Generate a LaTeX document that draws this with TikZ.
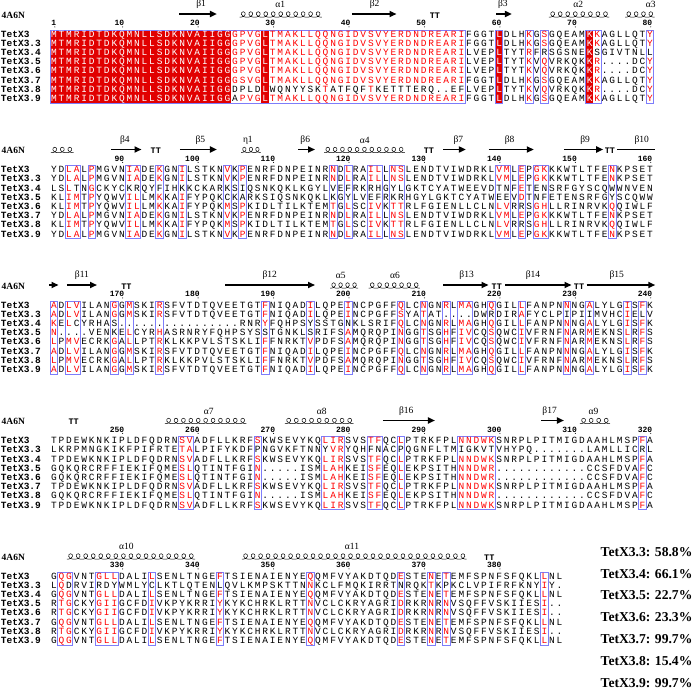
\documentclass[tikz,border=0pt]{standalone}
\usepackage{fontspec}
\setmainfont{Liberation Serif}
\setmonofont{Liberation Mono}
\usetikzlibrary{arrows.meta}
\definecolor{espred}{RGB}{225,0,0}
\definecolor{esptxt}{RGB}{255,0,0}
\definecolor{espblue}{RGB}{125,125,250}
\newcount\colidx
\newcount\blk
\newcount\nodecnt
\def\colx#1{54+(#1-1)*7.544}
\def\rowgap{9.2}
\newcommand\seqrow[2]{%
  \colidx=0
  \def\rowid{#1}%
  \pgfmathsetmacro\rowy{\blky+#1*\rowgap}%
  \doseq#2\relax}
\def\doseq#1{%
  \ifx#1\relax\else
    \advance\colidx by 1\relax
    \placech{#1}%
    \expandafter\doseq
  \fi}
\def\placech#1{%
  \ifnum\lccode`#1=`#1\relax
    \uppercase{\def\thech{#1}}\def\thecol{esptxt}%
  \else
    \def\thech{#1}\def\thecol{black}%
  \fi
  \ifcsname rb-\the\blk-\the\colidx\endcsname\def\thecol{white}\fi
  \node[seqch,text=\thecol,name=s\the\blk-\rowid-\the\colidx] at ({\colx{\the\colidx}},\rowy) {\thech};}
\newcommand\redbg[2]{%
  \foreach \k in {#1,...,#2}{\expandafter\gdef\csname rb-\the\blk-\k\endcsname{}}%
  \fill[espred] ({\colx{#1}-3.772},\blky-4.2) rectangle ({\colx{#2}+3.772},\blky+7*\rowgap+4.2);}
\newcommand\frm[2]{\draw[espblue,line width=0.75pt] ({\colx{#1}-3.772},\blky-4.2) rectangle ({\colx{#2}+3.772},\blky+7*\rowgap+4.2);}
\newcommand\names{%
  \foreach \n [count=\i from 0] in {TetX3,TetX3.3,TetX3.4,TetX3.5,TetX3.6,TetX3.7,TetX3.8,TetX3.9}{%
    \node[namech,name=nm\the\blk-\i] at (0.8,{\blky+\i*\rowgap}) {\n};}%
  \node[pdb,name=pdb\the\blk] at (1.5,\blky-19.5) {4A6N};}
\newcommand\numlab[2]{%
  \node[numch,name=num\the\blk-#1] at ({\colx{#1}+2.5},\blky-9.0) {#2};
  \fill ({\colx{#1}+0.8},\blky-7.6) circle (0.55pt);}
\newcommand\sslabel[2]{\global\advance\nodecnt by 1
  \node[sslab,name=ss\the\nodecnt] at ({\colx{#1}},\blky-30) {#2};}
\newcommand\sarr[4]{\draw[ssarr] ({\colx{#1}},\blky-20.5) -- ({\colx{#2}},\blky-20.5); \sslabel{#3}{#4}}
\newcommand\helixdraw[2]{%
  \pgfmathsetmacro\hxa{\colx{#1}}\pgfmathsetmacro\hxb{\colx{#2}}%
  \pgfmathtruncatemacro\hn{max(1,round((\hxb-\hxa)/7.544))}%
  \pgfmathsetmacro\hw{(\hxb-\hxa)/\hn}%
  \pgfmathsetmacro\hyb{\blky-17.3}\pgfmathsetmacro\hyt{\blky-22.8}%
  \draw[helixline] (\hxa,\hyb) \foreach \k in {1,...,\hn}{
     .. controls ({\hxa+(\k-0.05)*\hw},\hyb) and ({\hxa+(\k-0.12)*\hw},\hyt) .. ({\hxa+(\k-0.5)*\hw},\hyt)
     .. controls ({\hxa+(\k-0.88)*\hw},\hyt) and ({\hxa+(\k-0.95)*\hw},\hyb) .. ({\hxa+\k*\hw},\hyb)};}
\newcommand\shel[4]{\helixdraw{#1}{#2}\sslabel{#3}{#4}}
\newcommand\tturn[1]{\global\advance\nodecnt by 1
  \node[ttlab,name=tt\the\nodecnt] at ({\colx{#1}},\blky-19) {TT};}
\tikzset{
 seqch/.style={inner sep=0pt, font=\ttfamily\fontsize{9.5}{10}\selectfont, text height=5.3pt, text depth=0pt, anchor=center},
 namech/.style={inner sep=0pt, anchor=west, font=\ttfamily\bfseries\fontsize{9.5}{10}\selectfont, text height=5.3pt, text depth=0pt},
 pdb/.style={inner sep=0pt, anchor=west, font=\bfseries\fontsize{9.5}{10}\selectfont, text height=6pt, text depth=0pt},
 numch/.style={inner sep=0pt, anchor=base east, font=\ttfamily\bfseries\fontsize{8}{9}\selectfont},
 sslab/.style={inner sep=0pt, font=\fontsize{9.5}{10}\selectfont},
 ttlab/.style={inner sep=0pt, font=\ttfamily\bfseries\fontsize{8.5}{9}\selectfont},
 ssarr/.style={line width=1.7pt, -{Triangle[length=7pt,width=6pt]}},
 helixline/.style={line width=0.5pt},
 pct/.style={inner sep=0pt, anchor=west, font=\bfseries\fontsize{13.6}{16}\selectfont, text height=9.3pt, text depth=0pt},
}
\begin{document}
\begin{tikzpicture}[x=1pt,y=-1pt]
\fill[white] (0,0) rectangle (696,691);
\useasboundingbox (0,0) rectangle (696,691);
% ---------------- block 1
\blk=1 \def\blky{34.5}
\redbg{1}{24}\redbg{29}{29}\redbg{60}{60}\redbg{72}{72}
\frm{1}{55}\frm{60}{60}\frm{64}{64}\frm{66}{66}\frm{72}{73}\frm{80}{80}
\names
\numlab{1}{1}
\foreach \c in {10,20,...,80}{\numlab{\c}{\c}}
\sarr{17.6}{22.6}{20.5}{β1}
\shel{25.6}{36.5}{31}{α1}
\sarr{40.5}{46.4}{43.5}{β2}
\tturn{51.5}
\sarr{59.6}{61.7}{60.5}{β3}
\shel{66.6}{74.6}{70.5}{α2}
\shel{76.7}{80.6}{80.1}{α3}
\seqrow{0}{MTMRIDTDKQMNLLSDKNVAIIGGgpvgLtmakllqqngidvsvyerdndreariFGGTLDLHkGsGQEAMKkAGLLQTy}
\seqrow{1}{MTMRIDTDKQMNLLSDKNVAIIGGgpvgLtmakllqqngidvsvyerdndreariFGGTLDLHkGsGQEAMKkAGLLQTy}
\seqrow{2}{MTMRIDTDKQMNLLSDKNVAIIGGgpvgLtmakllqqngidvsvyerdndreariLVEPLTYTrFRSGSNEKSGIVTNLL}
\seqrow{3}{MTMRIDTDKQMNLLSDKNVAIIGGgpvgLtmakllqqngidvsvyerdndreariLVEPLTYTkVqVRKQKKr....DCy}
\seqrow{4}{MTMRIDTDKQMNLLSDKNVAIIGGgpvgLtmakllqqngidvsvyerdndreariLVEPLTYTkVqVRKQKKr....DCy}
\seqrow{5}{MTMRIDTDKQMNLLSDKNVAIIGGgsvgLtmakllqqngidvsvyerdndreariFGGTLDLHkGsGQEAMKkAGLLQTy}
\seqrow{6}{MTMRIDTDKQMNLLSDKNVAIIGGDPLDLWQNYYSKtATFQFtKETTTERQ..EFLVEPLTYTkVqVRKQKKr....DCy}
\seqrow{7}{MTMRIDTDKQMNLLSDKNVAIIGGApvgLtmakllqqngidvsvyerdndreariFGGTLDLHkGsGQEAMKkAGLLQTy}
% ---------------- block 2
\blk=2 \def\blky{170}
\frm{3}{4}\frm{6}{6}\frm{11}{12}\frm{15}{15}\frm{18}{18}\frm{24}{24}\frm{26}{26}\frm{38}{38}
\frm{40}{40}\frm{43}{44}\frm{46}{47}\frm{60}{61}\frm{63}{63}\frm{65}{66}\frm{75}{75}
\names
\foreach \c in {10,20,...,80}{\pgfmathtruncatemacro\v{\c+80}\numlab{\c}{\v}}
\helixdraw{0.6}{3.6}
\sarr{8.6}{12.6}{10.4}{β4}
\tturn{14.5}
\sarr{17.7}{22.6}{20.4}{β5}
\shel{25.8}{28.4}{26.7}{η1}
\sarr{33.4}{35.6}{34.3}{β6}
\shel{36.8}{47.5}{42.2}{α4}
\tturn{50.7}
\sarr{52.6}{55.6}{54.6}{β7}
\sarr{58.6}{64.6}{61.4}{β8}
\sarr{68.6}{73.8}{71.4}{β9}
\tturn{74.7}
\draw[line width=1.7pt] ({\colx{75.6}},\blky-20.5) -- ({\colx{80.7}},\blky-20.5);
\sslabel{78.9}{β10}
\seqrow{0}{YDlaLpMGVNiaDEkGNiLSTKNvKpENRFDNPEINRnDlRAilLnsLENDTVIWDRKLvmLePgkKKWTLTFEnKPSET}
\seqrow{1}{YDlaLpMGVNiaDEkGNiLSTKNvKpENRFDNPEINRnDlRAilLnsLENDTVIWDRKLvmLePgkKKWTLTFEnKPSET}
\seqrow{2}{LSlTNgCKYCKRQYFIHKKCKARKSIQSNKQKLKGYLVEFRKRHGYLGKTCYATWEEVDTNFeTENSRFGYSCQWWNVEN}
\seqrow{3}{KLimTpYQWVilLMkKAiFYPQKCKARKSIQSNKQKLKGYLVEFRKRHGYLGKTCYATWEEVdTNFETENSRFGYSCQWW}
\seqrow{4}{KLimTpYQWVilLMkKAiFYPQKmSpKIDLTILKTEMtGlSCivKttRLFGIENLLCLNlvRRSghLLRINRVKqQIWLF}
\seqrow{5}{YDlaLpMGVNiaDEkGNiLSTKNvKpENRFDNPEINRnDlRAilLnsLENDTVIWDRKLvmLePgkKKWTLTFEnKPSET}
\seqrow{6}{KLimTpYQWVilLMkKAiFYPQKmSpKIDLTILKTEMtGlSCivKttRLFGIENLLCLNlvRRSghLLRINRVKqQIWLF}
\seqrow{7}{YDlaLpMGVNiaDEkGNiLSTKNvKpENRFDNPEINRnDlRAilLnsLENDTVIWDRKLvmLePgkKKWTLTFEnKPSET}
% ---------------- block 3
\blk=3 \def\blky{305.5}
\frm{1}{1}\frm{3}{4}\frm{9}{9}\frm{11}{11}\frm{15}{15}\frm{29}{29}\frm{35}{35}\frm{40}{40}\frm{47}{47}
\frm{50}{50}\frm{53}{53}\frm{55}{56}\frm{59}{59}\frm{63}{63}\frm{69}{69}\frm{72}{72}\frm{77}{77}\frm{79}{79}
\names
\foreach \c in {10,20,...,80}{\pgfmathtruncatemacro\v{\c+160}\numlab{\c}{\v}}
\draw[ssarr] ({\colx{0.4}},\blky-20.5) -- ({\colx{1.6}},\blky-20.5);
\sarr{2.7}{6.7}{4.7}{β11}
\tturn{10.6}
\sarr{23.7}{35.6}{29.6}{β12}
\shel{37.6}{41.3}{39}{α5}
\shel{42.7}{49.5}{46.2}{α6}
\sarr{52.6}{58.6}{55.7}{β13}
\tturn{59.7}
\sarr{60.8}{69.6}{64.5}{β14}
\tturn{70.6}
\sarr{71.6}{80.7}{75.6}{β15}
\seqrow{0}{aDlvILANgGmSKIrSFVTDTQVEETGTfNIQADiLQPEiNCPGFFqLCnGNrLmaGHqGILlFANPNnNGaLYLGiSfK}
\seqrow{1}{aDlvILANgGmSKIrSFVTDTQVEETGTfNIQADiLQPEiNCPGFFsYAtAT....DWRDIRaFYCLPIPIIMVHCiELV}
\seqrow{2}{kElCYRHAS................RNRyFQHPSYSSTGNKLSRIFqLCnGNrLmaGHqGILlFANPNnNGaLYLGiSfK}
\seqrow{3}{n....VENKElCYRhASRNRYFQHPSYSSTGNKLSRIFSaMQRQPInGGtSGhFivCQsQWCiVFRNFnARmEKNSlRfS}
\seqrow{4}{lPmvECRKgAlLPTrKLKKPVLSTSKLIfFNRKTvPDFSaMQRQPInGGtSGhFivCQsQWCiVFRNFnARmEKNSlRfS}
\seqrow{5}{aDlvILANgGmSKIrSFVTDTQVEETGTfNIQADiLQPEiNCPGFFqLCnGNrLmaGHqGILlFANPNnNGaLYLGiSfK}
\seqrow{6}{lPmvECRKgAlLPTrKLKKPVLSTSKLIfFNRKTvPDFSaMQRQPInGGtSGhFivCQsQWCiVFRNFnARmEKNSlRfS}
\seqrow{7}{aDlvILANgGmSKIrSFVTDTQVEETGTfNIQADiLQPEiNCPGFFqLCnGNrLmaGHqGILlFANPNnNGaLYLGiSfK}
% ---------------- block 4
\blk=4 \def\blky{441}
\frm{18}{19}\frm{28}{28}\frm{37}{39}\frm{43}{44}\frm{47}{47}\frm{55}{59}\frm{79}{79}
\names
\foreach \c in {10,20,...,80}{\pgfmathtruncatemacro\v{\c+240}\numlab{\c}{\v}}
\tturn{3.6}
\shel{15.7}{26.5}{21.5}{α7}
\shel{31.6}{40.7}{36.5}{α8}
\sarr{44.6}{51.5}{47.7}{β16}
\sarr{65.6}{68.6}{66.7}{β17}
\shel{70.7}{74.7}{72.5}{α9}
\seqrow{0}{TPDEWKNKIPLDFQDRNsvADFLLKRFsKWSEVYKQlirSVStfQClPTRKFPLnndwkSNRPLPITMIGDAAHLMSPfA}
\seqrow{1}{LKRPMNGKIKFPIFRTEtaLPIFYKDFPNGVKFTNNYvrYQHFNACPQGNFLTMIGKVTVHYPQ.......LAMLLICRL}
\seqrow{2}{TPDEWKNKIPLDFQDRNsvADFLLKRFsKWSEVYKQlirSVStfQClPTRKFPLnndwkSNRPLPITMIGDAAHLMSPfA}
\seqrow{3}{GQKQRCRFFIEKIFQMEslQTINTFGIn.....ISMlahKEIsfEQlEKPSITHnndwr............CCSFDVAfC}
\seqrow{4}{GQKQRCRFFIEKIFQMEslQTINTFGIn.....ISMlahKEIsfEQlEKPSITHnndwr............CCSFDVAfC}
\seqrow{5}{TPDEWKNKIPLDFQDRNsvADFLLKRFsKWSEVYKQlirSVStfQClPTRKFPLnndwkSNRPLPITMIGDAAHLMSPfA}
\seqrow{6}{GQKQRCRFFIEKIFQMEslQTINTFGIn.....ISMlahKEIsfEQlEKPSITHnndwr............CCSFDVAfC}
\seqrow{7}{TPDEWKNKIPLDFQDRNsvADFLLKRFsKWSEVYKQlirSVStfQClPTRKFPLnndwkSNRPLPITMIGDAAHLMSPfA}
% ---------------- block 5
\blk=5 \def\blky{576.5}
\frm{2}{3}\frm{7}{9}\frm{14}{14}\frm{23}{23}\frm{35}{35}\frm{47}{47}\frm{51}{51}\frm{53}{53}\frm{66}{66}
\names
\foreach \c in {10,20,...,60}{\pgfmathtruncatemacro\v{\c+320}\numlab{\c}{\v}}
\shel{2.7}{19.7}{10.6}{α10}
\shel{25.9}{55.7}{40.5}{α11}
\tturn{58.7}
\seqrow{0}{GqgVNTgllDALIlSENLTNGEfTSIENAIENYEqQMFVYAKDTQDeSTEnEtEMFSPNFSFQKLlNL}
\seqrow{1}{LqDRVIRDYWMLYCLKTLQTENLQVLKMPSKTTNnKCLFMQKIRRTNRQKtKPKCLVPIFRFKNYiY.}
\seqrow{2}{GqgVNTgllDALIlSENLTNGEfTSIENAIENYEqQMFVYAKDTQDeSTEnEtEMFSPNFSFQKLlNL}
\seqrow{3}{RtgCKYgiiGCFDiVKPYKRRIyKYKCHRKLRTTnVCLCKRYAGRIdRKRnRnVSQFFVSKIIESi..}
\seqrow{4}{RtgCKYgiiGCFDiVKPYKRRIyKYKCHRKLRTTnVCLCKRYAGRIdRKRnRnVSQFFVSKIIESi..}
\seqrow{5}{GqgVNTgllDALIlSENLTNGEfTSIENAIENYEqQMFVYAKDTQDeSTEnEtEMFSPNFSFQKLlNL}
\seqrow{6}{RtgCKYgiiGCFDiVKPYKRRIyKYKCHRKLRTTnVCLCKRYAGRIdRKRnRnVSQFFVSKIIESi..}
\seqrow{7}{GqgVNTgllDALIlSENLTNGEfTSIENAIENYEqQMFVYAKDTQDeSTEnEtEMFSPNFSFQKLlNL}
% ---------------- identities
\node[pct,name=p1] at (600.5,551.5) {TetX3.3: 58.8\%};
\node[pct,name=p2] at (600.5,573.4) {TetX3.4: 66.1\%};
\node[pct,name=p3] at (600.5,595.3) {TetX3.5: 22.7\%};
\node[pct,name=p4] at (600.5,617.2) {TetX3.6: 23.3\%};
\node[pct,name=p5] at (600.5,639.1) {TetX3.7: 99.7\%};
\node[pct,name=p6] at (600.5,661) {TetX3.8: 15.4\%};
\node[pct,name=p7] at (600.5,682.9) {TetX3.9: 99.7\%};
\end{tikzpicture}
\end{document}
